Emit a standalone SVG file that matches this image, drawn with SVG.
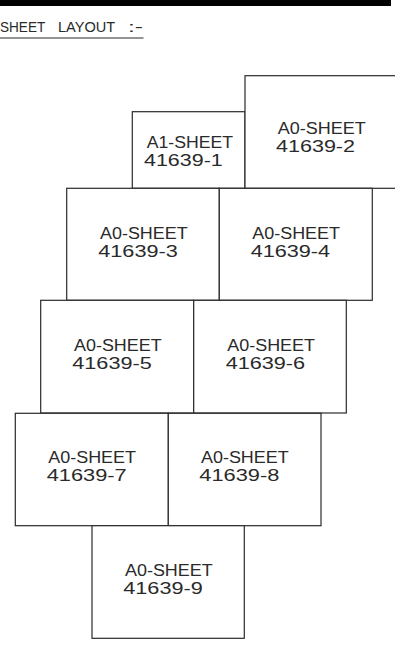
<svg xmlns="http://www.w3.org/2000/svg" width="395" height="653" viewBox="0 0 395 653">
<style>
.sheet{fill:#fff;stroke:#2a2a2a;stroke-width:1.2}
.lbl{font-family:"Liberation Sans",Arial,sans-serif;font-size:16px;fill:#2a2a2a}
.ttl{font-family:"Liberation Sans",Arial,sans-serif;font-size:15px;fill:#2a2a2a}
</style>
<rect x="0" y="0" width="391" height="6" fill="#000"/>
<g id="title">
<text class="ttl" y="32.3"><tspan x="0" textLength="45" lengthAdjust="spacingAndGlyphs">SHEET</tspan> <tspan x="58" textLength="57" lengthAdjust="spacingAndGlyphs">LAYOUT</tspan> <tspan x="128" textLength="15" lengthAdjust="spacingAndGlyphs">:-</tspan></text>
<line x1="0" y1="38" x2="143.5" y2="38" stroke="#2a2a2a" stroke-width="1.2"/>
</g>
<g id="sheet-1">
<rect class="sheet" x="132.3" y="111.7" width="112.7" height="76.6"/>
<text class="lbl"><tspan x="146.7" y="147.5" textLength="86.3" lengthAdjust="spacingAndGlyphs">A1-SHEET</tspan><tspan x="144" y="165.5" textLength="78.7" lengthAdjust="spacingAndGlyphs">41639-1</tspan></text>
</g>
<g id="sheet-2">
<rect class="sheet" x="245" y="75.7" width="152.7" height="112.6"/>
<text class="lbl"><tspan x="277.7" y="133.5" textLength="88" lengthAdjust="spacingAndGlyphs">A0-SHEET</tspan><tspan x="276" y="151.5" textLength="79" lengthAdjust="spacingAndGlyphs">41639-2</tspan></text>
</g>
<g id="sheet-3">
<rect class="sheet" x="66.7" y="188.3" width="152.6" height="112"/>
<text class="lbl"><tspan x="100" y="239" textLength="87.7" lengthAdjust="spacingAndGlyphs">A0-SHEET</tspan><tspan x="98.3" y="257" textLength="79.4" lengthAdjust="spacingAndGlyphs">41639-3</tspan></text>
</g>
<g id="sheet-4">
<rect class="sheet" x="219.3" y="188.3" width="153" height="112"/>
<text class="lbl"><tspan x="252.3" y="239" textLength="87.7" lengthAdjust="spacingAndGlyphs">A0-SHEET</tspan><tspan x="250.7" y="257" textLength="79.4" lengthAdjust="spacingAndGlyphs">41639-4</tspan></text>
</g>
<g id="sheet-5">
<rect class="sheet" x="40.7" y="300.3" width="153" height="112.7"/>
<text class="lbl"><tspan x="74" y="351" textLength="87.7" lengthAdjust="spacingAndGlyphs">A0-SHEET</tspan><tspan x="72.3" y="369" textLength="79.4" lengthAdjust="spacingAndGlyphs">41639-5</tspan></text>
</g>
<g id="sheet-6">
<rect class="sheet" x="193.7" y="300.3" width="152.6" height="112.7"/>
<text class="lbl"><tspan x="227.3" y="351" textLength="87.7" lengthAdjust="spacingAndGlyphs">A0-SHEET</tspan><tspan x="225.7" y="369" textLength="79.4" lengthAdjust="spacingAndGlyphs">41639-6</tspan></text>
</g>
<g id="sheet-7">
<rect class="sheet" x="15.3" y="413.3" width="153" height="112.4"/>
<text class="lbl"><tspan x="48.3" y="463" textLength="87.7" lengthAdjust="spacingAndGlyphs">A0-SHEET</tspan><tspan x="46.7" y="481" textLength="80" lengthAdjust="spacingAndGlyphs">41639-7</tspan></text>
</g>
<g id="sheet-8">
<rect class="sheet" x="168.3" y="413.3" width="152.7" height="112.4"/>
<text class="lbl"><tspan x="201" y="463" textLength="87.7" lengthAdjust="spacingAndGlyphs">A0-SHEET</tspan><tspan x="199.3" y="481" textLength="80" lengthAdjust="spacingAndGlyphs">41639-8</tspan></text>
</g>
<g id="sheet-9">
<rect class="sheet" x="92" y="525.7" width="152.3" height="112.6"/>
<text class="lbl"><tspan x="125" y="575.5" textLength="87.7" lengthAdjust="spacingAndGlyphs">A0-SHEET</tspan><tspan x="123.3" y="593.5" textLength="79.4" lengthAdjust="spacingAndGlyphs">41639-9</tspan></text>
</g>
<g id="connectors"></g>
</svg>
